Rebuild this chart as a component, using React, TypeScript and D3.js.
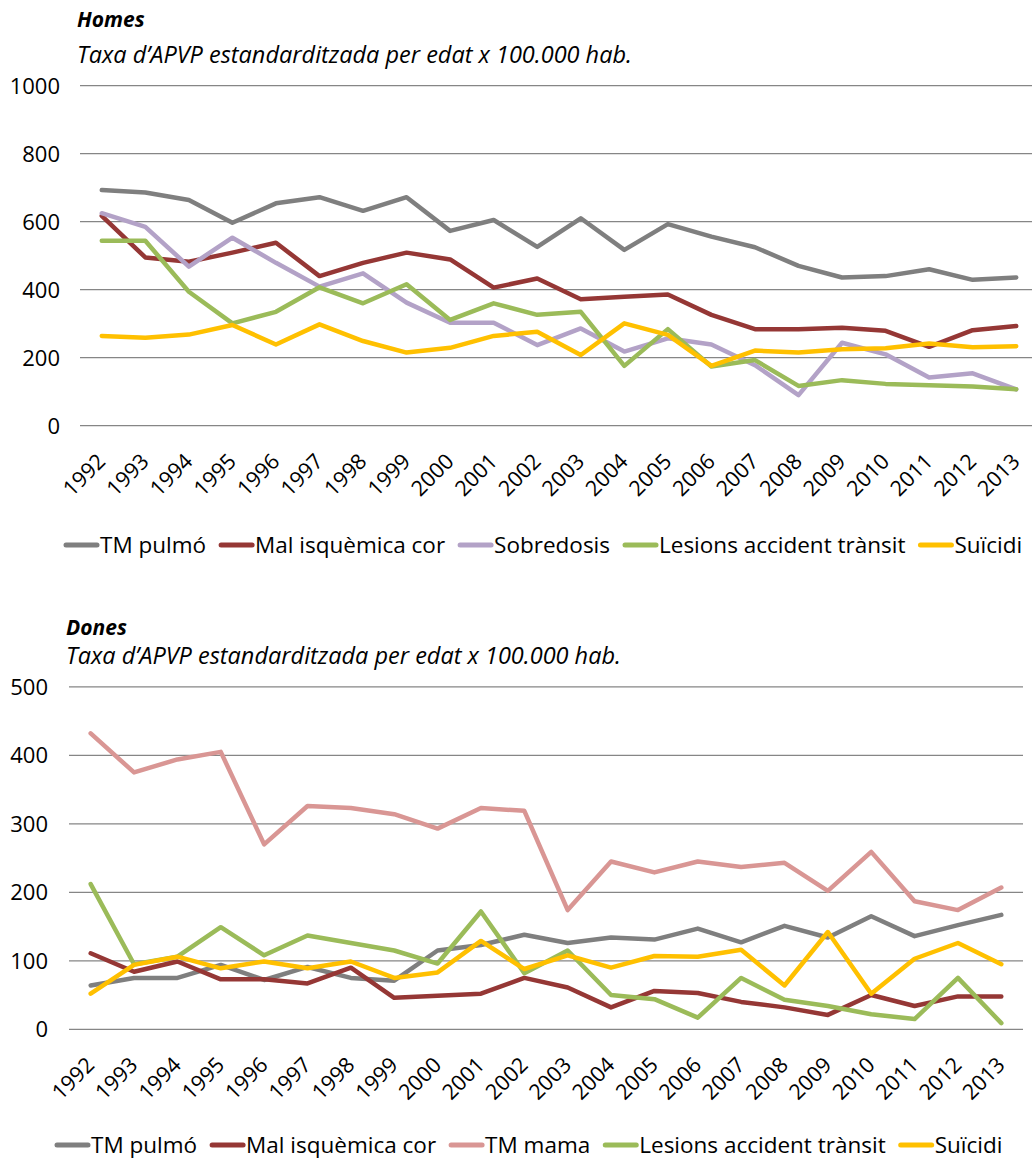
import * as d3 from "d3";
import { useEffect, useRef } from "react";

const years = [
  "1992", "1993", "1994", "1995", "1996", "1997", "1998", "1999", "2000", "2001", "2002",
  "2003", "2004", "2005", "2006", "2007", "2008", "2009", "2010", "2011", "2012", "2013",
];

// Homes
const homesPulmo = [693, 686, 664, 597, 654, 672, 632, 672, 573, 605, 526, 610, 517, 593, 556, 525, 470, 436, 440, 460, 429, 436];
const homesCor = [617, 495, 482, 509, 538, 440, 479, 509, 489, 406, 433, 372, 379, 386, 326, 284, 284, 288, 279, 232, 281, 293];
const homesSobredosis = [625, 585, 468, 553, 479, 409, 448, 362, 303, 303, 237, 286, 218, 257, 239, 178, 90, 244, 210, 142, 154, 107];
const homesTransit = [544, 544, 394, 301, 335, 407, 360, 416, 311, 360, 326, 335, 176, 284, 174, 193, 117, 134, 123, 119, 115, 107];
const homesSuicidi = [264, 259, 268, 296, 239, 298, 249, 215, 229, 264, 276, 208, 301, 267, 176, 221, 215, 225, 228, 242, 231, 234];

// Dones
const donesPulmo = [64, 75, 75, 94, 72, 91, 75, 71, 115, 123, 138, 126, 134, 131, 147, 127, 151, 134, 165, 136, 152, 167];
const donesCor = [111, 84, 99, 73, 73, 67, 90, 46, 49, 52, 75, 61, 32, 56, 53, 40, 32, 21, 50, 34, 48, 48];
const donesMama = [432, 375, 394, 405, 270, 326, 323, 314, 293, 323, 319, 174, 245, 229, 245, 237, 243, 202, 259, 187, 174, 207];
const donesTransit = [212, 95, 106, 149, 108, 137, 126, 115, 96, 172, 82, 115, 50, 44, 17, 75, 43, 34, 22, 15, 75, 9];
const donesSuicidi = [52, 94, 106, 89, 99, 89, 99, 75, 83, 129, 88, 108, 90, 107, 106, 116, 64, 142, 52, 103, 126, 95];

const homesTicks = [0, 200, 400, 600, 800, 1000];
const donesTicks = [0, 100, 200, 300, 400, 500];

const FONT = "'Open Sans', 'Noto Sans', sans-serif";

type Series = { name: string; color: string; values: number[] };

const homesSeries: Series[] = [
  { name: "TM pulmó", color: "#7f7f7f", values: homesPulmo },
  { name: "Mal isquèmica cor", color: "#953735", values: homesCor },
  { name: "Sobredosis", color: "#b3a2c7", values: homesSobredosis },
  { name: "Lesions accident trànsit", color: "#9bbb59", values: homesTransit },
  { name: "Suïcidi", color: "#ffc000", values: homesSuicidi },
];

const donesSeries: Series[] = [
  { name: "TM pulmó", color: "#7f7f7f", values: donesPulmo },
  { name: "Mal isquèmica cor", color: "#953735", values: donesCor },
  { name: "TM mama", color: "#d99694", values: donesMama },
  { name: "Lesions accident trànsit", color: "#9bbb59", values: donesTransit },
  { name: "Suïcidi", color: "#ffc000", values: donesSuicidi },
];

type Panel = {
  title: string;
  series: Series[];
  ticks: number[];
  x0: number;
  x1: number;
  yTop: number;
  yBottom: number;
  tickRight: number;
  titleX: number;
  titleY: number;
  subY: number;
  legendX: number;
  legendY: number;
};

const panels: Panel[] = [
  {
    title: "Homes", series: homesSeries, ticks: homesTicks,
    x0: 80, x1: 1038, yTop: 85.7, yBottom: 425.7, tickRight: 60,
    titleX: 77, titleY: 27, subY: 63, legendX: 64, legendY: 545,
  },
  {
    title: "Dones", series: donesSeries, ticks: donesTicks,
    x0: 69, x1: 1023, yTop: 686.8, yBottom: 1029.3, tickRight: 48,
    titleX: 66, titleY: 635, subY: 664, legendX: 55, legendY: 1145,
  },
];

const drawPanel = (svg: d3.Selection<SVGSVGElement, unknown, null, undefined>, p: Panel) => {
  const x = d3.scaleBand<string>().domain(years).range([p.x0, p.x1]);
  const y = d3
    .scaleLinear()
    .domain([0, d3.max(p.ticks)!])
    .range([p.yBottom, p.yTop]);

  const g = svg.append("g");

  g.append("text")
    .attr("x", p.titleX)
    .attr("y", p.titleY)
    .attr("font-size", 21)
    .attr("font-weight", "bold")
    .attr("font-style", "italic")
    .text(p.title);

  g.append("text")
    .attr("x", p.titleX)
    .attr("y", p.subY)
    .attr("font-size", 23.5)
    .attr("font-style", "italic")
    .text("Taxa d’APVP estandarditzada per edat x 100.000 hab.");

  // gridlines + y labels
  g.selectAll("line.grid")
    .data(p.ticks)
    .join("line")
    .attr("class", "grid")
    .attr("x1", p.x0)
    .attr("x2", p.x1)
    .attr("y1", (d) => y(d))
    .attr("y2", (d) => y(d))
    .attr("stroke", "#868686")
    .attr("stroke-width", 1.3);

  g.selectAll("text.ytick")
    .data(p.ticks)
    .join("text")
    .attr("class", "ytick")
    .attr("x", p.tickRight)
    .attr("y", (d) => y(d))
    .attr("dy", "0.36em")
    .attr("text-anchor", "end")
    .attr("font-size", 22)
    .text((d) => `${d}`);

  // x labels
  g.selectAll("text.xtick")
    .data(years)
    .join("text")
    .attr("class", "xtick")
    .attr("text-anchor", "end")
    .attr("font-size", 21.5)
    .attr(
      "transform",
      (d) => `translate(${x(d)! + x.bandwidth() / 2 + 5},${p.yBottom + 37}) rotate(-45)`
    )
    .text((d) => d);

  const line = d3
    .line<number>()
    .x((_, i) => x(years[i])! + x.bandwidth() / 2)
    .y((d) => y(d));

  g.selectAll("path.series")
    .data(p.series)
    .join("path")
    .attr("class", "series")
    .attr("d", (s) => line(s.values))
    .attr("fill", "none")
    .attr("stroke", (s) => s.color)
    .attr("stroke-width", 4.5)
    .attr("stroke-linejoin", "round")
    .attr("stroke-linecap", "round");

  // legend
  const legend = g.append("g");
  let cx = p.legendX;
  p.series.forEach((s) => {
    legend
      .append("line")
      .attr("x1", cx + 2)
      .attr("x2", cx + 33)
      .attr("y1", p.legendY)
      .attr("y2", p.legendY)
      .attr("stroke", s.color)
      .attr("stroke-width", 5)
      .attr("stroke-linecap", "round");
    const t = legend
      .append("text")
      .attr("x", cx + 36)
      .attr("y", p.legendY)
      .attr("dy", "0.36em")
      .attr("font-size", 22.5)
      .text(s.name);
    const w = (t.node() as SVGTextElement).getComputedTextLength();
    cx += 36 + w + 13;
  });
};

const App = () => {
  const ref = useRef<SVGSVGElement | null>(null);

  useEffect(() => {
    if (!ref.current) return;
    const svg = d3.select(ref.current);
    svg.selectAll("*").remove();
    panels.forEach((p) => drawPanel(svg, p));
  }, []);

  return (
    <svg
      ref={ref}
      width={1032}
      height={1159}
      style={{ position: "absolute", left: 0, top: 0, fontFamily: FONT, background: "#fff" }}
    />
  );
};

export default App;
